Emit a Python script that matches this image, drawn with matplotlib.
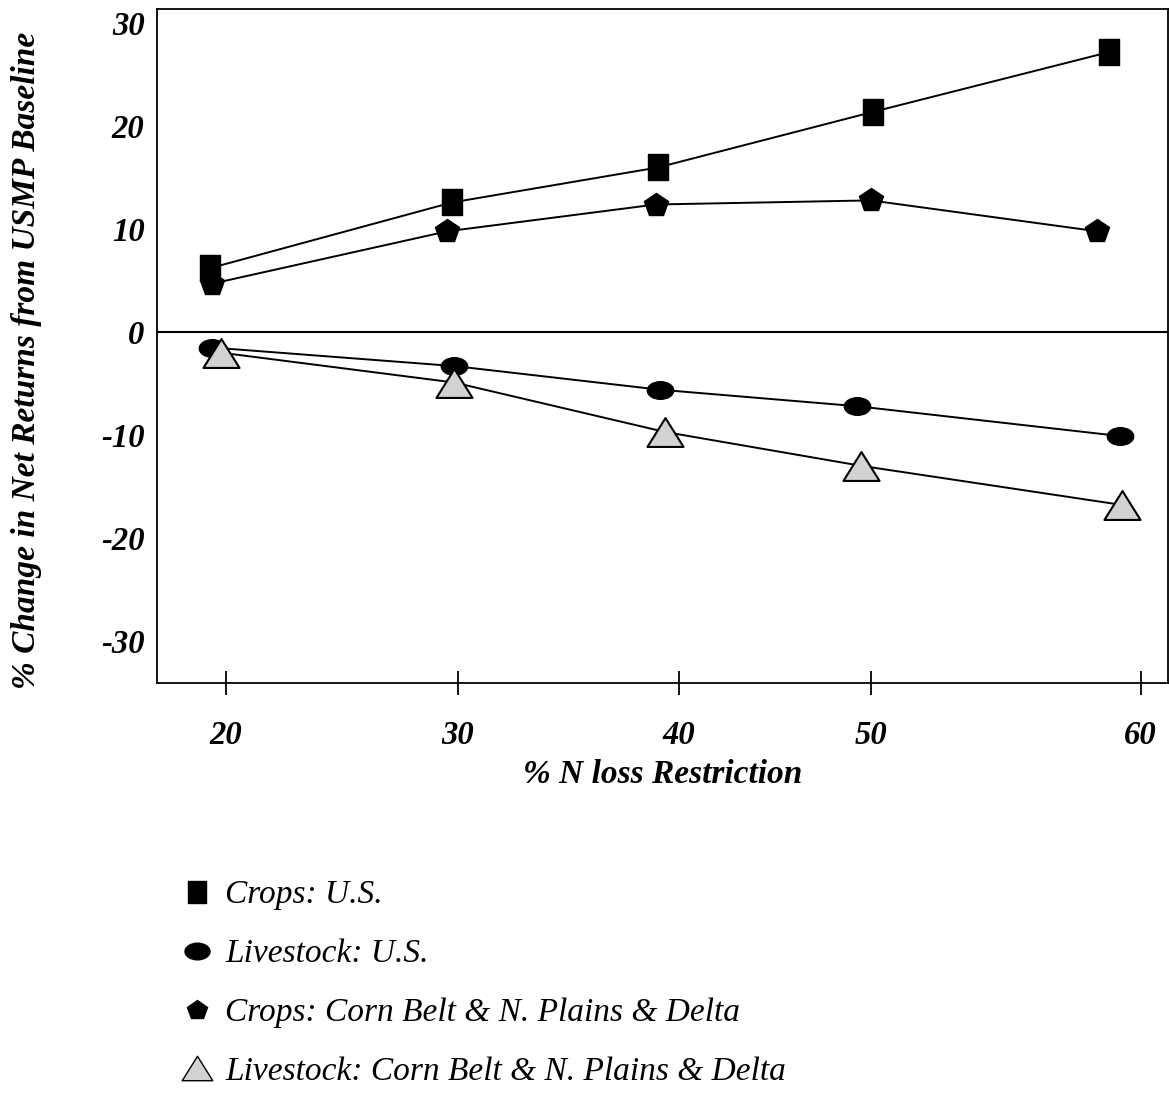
import numpy as np
import matplotlib
matplotlib.use('Agg')
import matplotlib.pyplot as plt
from matplotlib.path import Path
from matplotlib.transforms import Affine2D
from matplotlib.lines import Line2D

plt.rcParams['font.family'] = ['Liberation Serif', 'DejaVu Serif']

# data (x in % N loss restriction, y in % change)
crops_us_x = [19.3, 29.9, 38.9, 48.3, 58.6]
crops_us_y = [6.2, 12.6, 16.0, 21.4, 27.2]

live_us_x = [19.4, 30.0, 39.0, 47.6, 59.1]
live_us_y = [-1.5, -3.3, -5.6, -7.2, -10.1]

crops_cb_x = [19.4, 29.7, 38.8, 48.2, 58.1]
crops_cb_y = [4.7, 9.8, 12.4, 12.8, 9.8]

live_cb_x = [19.8, 30.0, 39.2, 47.8, 59.2]
live_cb_y = [-2.0, -4.9, -9.7, -13.0, -16.8]

xtick_pos = [20, 30.15, 39.8, 48.2, 60]
xtick_lab = ['20', '30', '40', '50', '60']
ytick_pos = [30, 20, 10, 0, -10, -20, -30]

labels = ['Crops: U.S.', 'Livestock: U.S.',
          'Crops: Corn Belt & N. Plains & Delta',
          'Livestock: Corn Belt & N. Plains & Delta']

# custom marker shapes
ellipse = Path.unit_circle().transformed(Affine2D().scale(1.5, 1.0))
rect = Path([(-0.77, -1), (0.77, -1), (0.77, 1), (-0.77, 1), (-0.77, -1)],
            [Path.MOVETO, Path.LINETO, Path.LINETO, Path.LINETO, Path.CLOSEPOLY])
tri = Path([(0, 0.8), (-1, -0.8), (1, -0.8), (0, 0.8)],
           [Path.MOVETO, Path.LINETO, Path.LINETO, Path.CLOSEPOLY])

fig = plt.figure(figsize=(11.69, 10.97), dpi=100)
ax = fig.add_axes([157/1169, 1-683/1097, (1168-157)/1169, (683-9)/1097])

ax.axhline(0, color='black', lw=1.5, zorder=1)

ax.plot(crops_us_x, crops_us_y, color='black', lw=1.4, marker=rect,
        ms=19, mfc='black', mec='black', zorder=3)
ax.plot(crops_cb_x, crops_cb_y, color='black', lw=1.4, marker='p',
        ms=18, mfc='black', mec='black', zorder=3)
ax.plot(live_us_x, live_us_y, color='black', lw=1.4, marker=ellipse,
        ms=19, mfc='black', mec='black', zorder=3)
ax.plot(live_cb_x, live_cb_y, color='black', lw=1.4, marker=tri,
        ms=26, mfc='#d2d2d2', mec='black', mew=1.5, zorder=4)

ax.set_xlim(17.0, 61.2)
ax.set_ylim(-34.1, 31.4)

ax.set_xticks(xtick_pos)
ax.set_xticklabels(xtick_lab)
ax.set_yticks(ytick_pos)
ax.set_yticklabels([str(v) for v in ytick_pos])

for lab in ax.get_xticklabels() + ax.get_yticklabels():
    lab.set_fontweight('bold')
    lab.set_fontstyle('italic')
    lab.set_fontsize(23.5)

ax.tick_params(axis='x', direction='inout', length=17, width=1.3, pad=18)
ax.tick_params(axis='y', length=0, pad=9)

for s in ax.spines.values():
    s.set_linewidth(1.3)

ax.set_xlabel('% N loss Restriction', fontsize=24, fontweight='bold',
              fontstyle='italic', labelpad=6)
fig.text(27/1169, 1-360/1097, '% Change in Net Returns from USMP Baseline',
         rotation=90, ha='center', va='center', fontsize=24,
         fontweight='bold', fontstyle='italic')

# legend (markers only)
handles = [
    Line2D([], [], ls='none', marker=rect, ms=16, mfc='black', mec='black'),
    Line2D([], [], ls='none', marker=ellipse, ms=18, mfc='black', mec='black'),
    Line2D([], [], ls='none', marker='p', ms=15, mfc='black', mec='black'),
    Line2D([], [], ls='none', marker=tri, ms=22, mfc='#d2d2d2', mec='black', mew=1),
]
fig.legend(handles, labels, loc='upper left', bbox_to_anchor=(150/1169, 1-850/1097),
           frameon=False, prop={'family': 'Liberation Serif', 'style': 'italic', 'size': 24},
           handlelength=1.0, handletextpad=0.35, labelspacing=0.85)

fig.savefig('out.png', dpi=100)
